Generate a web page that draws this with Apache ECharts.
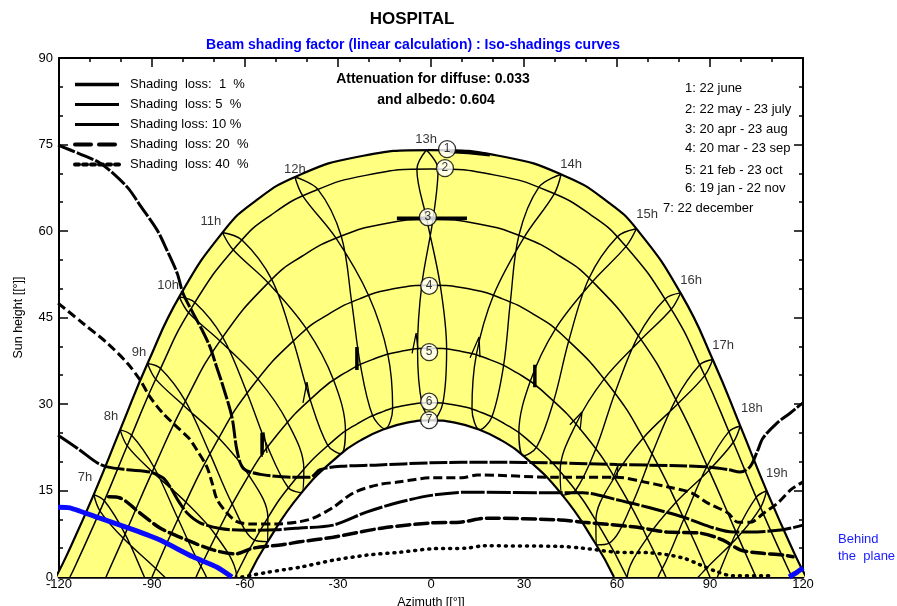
<!DOCTYPE html>
<html><head><meta charset="utf-8">
<script src="https://cdn.jsdelivr.net/npm/echarts@6/dist/echarts.min.js"></script>
<style>html,body{margin:0;padding:0;background:#fff}#c{width:897px;height:606px}</style>
</head><body><div id="c"></div><script>
// ---- axis ticks ----
const xTicks = [-120, -90, -60, -30, 0, 30, 60, 90, 120];
const yTicks = [0, 15, 30, 45, 60, 75, 90];

// ---- day curves (azimuth, sun height) ----
const dayJun = [[-121.0,0],[-117.33,3.96],[-108.52,14.63],[-100.02,25.85],[-91.16,37.37],[-80.85,48.92],[-66.76,60.06],[-56.69,65.19],[-42.94,69.6],[-23.92,72.83],[0,74.04],[23.92,72.83],[42.94,69.6],[56.69,65.19],[66.76,60.06],[80.85,48.92],[91.16,37.37],[100.02,25.85],[108.52,14.63],[117.33,3.96],[121.0,0]];
const dayMay = [[-116.48,0],[-114.87,1.77],[-105.83,12.63],[-97.04,23.98],[-87.76,35.55],[-76.84,47.02],[-61.96,57.88],[-51.63,62.77],[-38.13,66.84],[-20.68,69.69],[0,70.75],[20.68,69.69],[38.13,66.84],[51.63,62.77],[61.96,57.88],[76.84,47.02],[87.76,35.55],[97.04,23.98],[105.83,12.63],[114.87,1.77],[116.48,0]];
const dayApr = [[-104.83,0],[-98.86,7.21],[-89.50,18.76],[-79.43,30.28],[-67.48,41.39],[-51.77,51.42],[-41.62,55.62],[-29.50,59.01],[-15.41,61.23],[0,62.0],[15.41,61.23],[29.50,59.01],[41.62,55.62],[51.77,51.42],[67.48,41.39],[79.43,30.28],[89.50,18.76],[98.86,7.21],[104.83,0]];
const dayMar = [[-90,0],[-80.35,11.54],[-69.87,22.73],[-57.59,33.12],[-42.29,42.0],[-33.12,45.55],[-22.88,48.28],[-11.72,50.01],[0,50.6],[11.72,50.01],[22.88,48.28],[33.12,45.55],[42.29,42.0],[57.59,33.12],[69.87,22.73],[80.35,11.54],[90,0]];
const dayFeb = [[-75.77,0],[-72.00,4.34],[-61.67,14.99],[-49.76,24.57],[-35.56,32.44],[-27.47,35.47],[-18.74,37.74],[-9.51,39.16],[0,39.65],[9.51,39.16],[18.74,37.74],[27.47,35.47],[35.56,32.44],[49.76,24.57],[61.67,14.99],[72.00,4.34],[75.77,0]];
const dayJan = [[-63.18,0],[-55.07,8.10],[-43.84,16.91],[-30.85,23.95],[-23.65,26.61],[-16.03,28.57],[-8.10,29.79],[0,30.2],[8.10,29.79],[16.03,28.57],[23.65,26.61],[30.85,23.95],[43.84,16.91],[55.07,8.10],[63.18,0]];
const dayDec = [[-59.02,0],[-53.00,5.85],[-42.05,14.41],[-29.47,21.19],[-22.55,23.74],[-15.27,25.61],[-7.71,26.77],[0,27.16],[7.71,26.77],[15.27,25.61],[22.55,23.74],[29.47,21.19],[42.05,14.41],[53.00,5.85],[59.02,0]];

// ---- hour lines (analemma loops) ----
const hour07 = [[-108.78,14.30],[-105.36,13.22],[-98.67,7.44],[-91.21,-1.47],[-83.61,-9.53],[-75.54,-14.8],[-71.91,-10.19],[-79.05,-3.91],[-88.79,1.47],[-99.26,6.71],[-106.77,11.44],[-108.78,14.30]];
const hour08 = [[-100.28,25.51],[-96.57,24.59],[-89.31,18.99],[-81.61,10.09],[-74.22,1.84],[-66.62,-3.83],[-62.39,-3.66],[-62.76,0.51],[-69.42,7.24],[-79.09,12.99],[-89.91,18.26],[-97.99,22.75],[-100.28,25.51]];
const hour09 = [[-91.44,37.02],[-87.24,36.17],[-79.21,30.51],[-71.29,21.35],[-64.16,12.68],[-56.95,6.39],[-52.69,6.13],[-52.63,10.32],[-58.78,17.68],[-68.45,24.11],[-79.90,29.79],[-88.81,34.31],[-91.44,37.02]];
const hour10 = [[-81.20,48.58],[-76.18,47.62],[-67.21,41.60],[-59.31,31.88],[-52.69,22.57],[-46.01,15.47],[-41.70,14.64],[-41.03,18.78],[-46.35,26.90],[-55.87,34.36],[-68.06,40.93],[-78.16,45.82],[-81.20,48.58]];
const hour11 = [[-67.28,59.74],[-60.99,58.43],[-51.40,51.60],[-44.47,41.01],[-39.08,30.91],[-33.36,22.88],[-29.07,21.36],[-27.60,25.34],[-31.47,34.22],[-40.11,42.99],[-52.57,51.03],[-63.90,56.79],[-67.28,59.74]];
const hour12 = [[-43.91,69.36],[-36.49,67.22],[-28.97,59.12],[-25.60,47.71],[-22.79,36.83],[-18.84,27.99],[-14.82,25.70],[-12.37,29.24],[-13.93,38.61],[-20.16,48.85],[-30.64,58.76],[-41.33,66.05],[-43.91,69.36]];
const hour13 = [[-1.50,74.04],[2.28,70.74],[0.63,62.0],[-2.99,50.57],[-4.34,39.54],[-2.93,30.17],[0.46,27.16],[3.80,30.11],[5.04,39.51],[2.99,50.57],[-1.36,62.0],[-4.55,70.72],[-1.50,74.04]];
const hour14 = [[41.97,69.84],[39.76,66.44],[30.03,58.90],[20.16,48.85],[14.61,38.50],[13.22,29.15],[15.72,25.52],[19.63,27.75],[23.41,36.65],[25.60,47.71],[28.36,59.26],[34.76,67.57],[41.97,69.84]];
const hour15 = [[66.24,60.38],[62.93,57.33],[52.14,51.24],[40.11,42.99],[32.04,33.97],[28.34,25.02],[29.87,21.02],[34.10,22.56],[39.65,30.67],[44.47,41.01],[50.97,51.81],[60.02,58.97],[66.24,60.38]];
const hour16 = [[80.50,49.26],[77.50,46.42],[67.75,41.18],[55.87,34.36],[46.83,26.58],[41.67,18.36],[42.40,14.18],[46.66,15.04],[53.17,22.24],[59.31,31.88],[66.90,41.85],[75.52,48.22],[80.50,49.26]];
const hour17 = [[90.88,37.72],[88.29,34.93],[79.65,30.05],[68.45,24.11],[59.18,17.30],[53.19,9.81],[53.31,5.57],[57.51,5.88],[64.57,12.30],[71.29,21.35],[78.96,30.77],[86.71,36.79],[90.88,37.72]];
const hour18 = [[99.76,26.19],[97.51,23.37],[89.69,18.53],[79.09,12.99],[69.78,6.84],[63.26,-0.05],[62.95,-4.26],[67.12,-4.39],[74.58,1.44],[81.61,10.09],[89.09,19.26],[96.09,25.21],[99.76,26.19]];
const hour19 = [[108.26,14.96],[106.30,12.04],[99.05,6.98],[88.79,1.47],[79.39,-4.33],[72.38,-10.79],[76.01,-15.39],[83.95,-9.95],[91.21,-1.47],[98.46,7.71],[104.89,13.82],[108.26,14.96]];

// ---- iso-shading curves ----
const isoNames = ['Shading  loss:  1  %', 'Shading  loss: 5  %', 'Shading loss: 10 %', 'Shading  loss: 20  %', 'Shading  loss: 40  %'];
const iso01 = [[-120.3,74.9],[-113,73.3],[-106.8,71.8],[-101.9,69.7],[-97.5,67.3],[-93.9,64.5],[-88.4,60.2],[-85.2,56.7],[-81.9,52.7],[-80,49.2],[-76.8,45.8],[-74,43],[-71.3,39.9],[-69.2,36.5],[-67.4,33.6],[-64.2,27.7],[-62.6,22],[-60.5,18.8],[-55,17.8],[-45,17.3],[-39,17.3],[-35.8,18.6],[-29,19.2],[-18,19.4],[0,19.8],[20,19.9],[40,19.8],[60,19.5],[80,19.3],[89,19.1],[96,18.6],[99.7,18.2],[102.9,19.1],[105.2,21.7],[107.1,24.1],[111.6,26.7],[115.8,28.4],[119,29.8],[120,30.2]];
const iso05 = [[-120.3,47.5],[-112.3,44],[-104.5,40.6],[-98,37.1],[-93.9,34.2],[-90.6,31.2],[-86.5,28.4],[-81.9,26],[-78,24],[-75.5,22],[-72.3,19.1],[-70.6,16.3],[-69,13.4],[-65.8,11.1],[-62.6,9.6],[-58.4,9.2],[-50,9.2],[-42.3,9.6],[-38,10.2],[-31.5,12.1],[-25,14.6],[-17,16],[-10,16.5],[0,17.2],[10,17.2],[15,17.7],[40,17.3],[60,17.3],[68.6,16.5],[76.5,15.6],[84,14.6],[89.3,12.8],[95.8,11.1],[99,9.5],[103,9.5],[107.4,11.1],[111.8,12.8],[116,15.1],[120,16.5]];
const iso10 = [[-120.3,24.6],[-114,22.3],[-107.7,19.8],[-104.5,19.1],[-98,18.6],[-90.6,18.2],[-86.5,17.2],[-84,15.5],[-81.5,13.2],[-78.5,11],[-74.5,9.4],[-68,8.4],[-60,8.1],[-50,8.2],[-42.3,8.5],[-31.6,9.0],[-20.6,11.3],[-10,13.0],[0.6,14.2],[11.6,14.7],[41.6,14.6],[49,14.6],[60,13.4],[70.6,12.0],[81.3,10.4],[90,8.7],[97.4,7.8],[102.9,7.8],[113.5,8.2],[120,9.0]];
const iso20 = [[-104,13.9],[-100.3,13.7],[-93.9,11.1],[-87.4,8.5],[-78.7,6.4],[-70.3,4.7],[-63.2,4.0],[-57.4,5.0],[-48,5.6],[-42.3,6.1],[-31.6,6.9],[-15.5,8.5],[0.6,9.4],[9.4,9.5],[18.1,10.2],[41.6,9.9],[49,9.5],[65.2,8.7],[76.1,7.8],[86.8,7.6],[94.2,6.4],[99.7,4.7],[105.2,4.2],[113.5,3.8],[116.8,3.5]];
const iso40 = [[-61,0],[-57,0.4],[-52.9,0.8],[-47,1.3],[-42.3,1.7],[-31.6,2.9],[-20.6,3.8],[-10,4.3],[0.6,4.9],[11.6,5.0],[16.8,5.4],[41.6,5.3],[49,5.0],[60,4.3],[70.6,4.2],[81.3,3.3],[86.8,2.1],[92.3,0.9],[97.4,0.2],[110,0.2]];
const iso01Bits = [[[6,73.8],[12,73.6],[19,73.2]], [[-11,62.2],[11.6,62.2]], [[-54.5,21.2],[-54.5,25.0]], [[-23.9,35.9],[-23.9,39.9]], [[33.5,32.9],[33.5,36.8]]];
const isoSmallBits = [[[-41.3,30.2],[-40,33.8],[-39,30.7]], [[-6.1,38.8],[-4.8,42.3],[-4.2,39.4]], [[12.6,38.0],[15.5,41.6],[15.8,38.1]], [[-54.5,20.8],[-53.9,25.1],[-52.9,21.5]], [[44.8,26.4],[48.7,28.6],[48.1,25.5]], [[58.4,16.8],[60.3,19.4],[60,17.3]]];

// ---- "behind the plane" limit ----
const blueLeft = [[-120.3,12.1],[-116.5,12.0],[-106.8,10.2],[-96.1,8.2],[-87.4,6.4],[-76.8,3.5],[-69,1.7],[-64.2,0]];
const blueRight = [[115.5,0],[118,0.8],[120,1.6]];

// ---- labels ----
const hourLabels = [[-111.6,17.3,'7h'],[-103.2,27.9,'8h'],[-94.2,39.0,'9h'],[-84.8,50.5,'10h'],[-71.0,61.6,'11h'],[-43.9,70.7,'12h'],[-1.6,75.8,'13h'],[45.2,71.6,'14h'],[69.7,62.8,'15h'],[83.9,51.5,'16h'],[94.2,40.1,'17h'],[103.5,29.3,'18h'],[111.6,17.9,'19h']];
const dateMarks = [[5.2,74.2,'1'],[4.5,70.9,'2'],[-1.0,62.4,'3'],[-0.6,50.5,'4'],[-0.6,39.0,'5'],[-0.6,30.4,'6'],[-0.6,27.2,'7']];
const dateLegend = ['1: 22 june', '2: 22 may - 23 july', '3: 20 apr - 23 aug', '4: 20 mar - 23 sep', '5: 21 feb - 23 oct', '6: 19 jan - 22 nov', '7: 22 december'];

const F = 'Liberation Sans, Arial, Helvetica, sans-serif';
const chart = echarts.init(document.getElementById('c'), null, {renderer: 'canvas'});

const series = [];
// yellow region: June area minus December area
series.push({type:'line', data: dayJun, symbol:'none', smooth:true, silent:true, z:1,
  lineStyle:{color:'#000', width:2.2}, areaStyle:{color:'#ffff80', opacity:1, origin:'start'}});
series.push({type:'line', data: dayDec, symbol:'none', smooth:true, silent:true, z:1,
  lineStyle:{color:'#000', width:2.2}, areaStyle:{color:'#ffffff', opacity:1, origin:'start'}});
[dayMay, dayApr, dayMar, dayFeb, dayJan].forEach(d => series.push({type:'line', data:d, symbol:'none', smooth:true, silent:true, z:2,
  lineStyle:{color:'#000', width:1.5}}));
[hour07,hour08,hour09,hour10,hour11,hour12,hour13,hour14,hour15,hour16,hour17,hour18,hour19].forEach(d => series.push({type:'line', data:d, symbol:'none', smooth:0.35, silent:true, z:2,
  lineStyle:{color:'#000', width:1.4}}));

const isoData = [iso01, iso05, iso10, iso20, iso40];
const isoStyles = [
  {color:'#000', width:3, type:[18,2]},
  {color:'#000', width:3, type:[9,4]},
  {color:'#000', width:3, type:[24,2]},
  {color:'#000', width:3.5, type:[13,5], cap:'round'},
  {color:'#000', width:3.5, type:[1,6], cap:'round'}
];
const legendStyles = [
  {color:'#000', width:3.5, type:'solid'},
  {color:'#000', width:3, type:'solid'},
  {color:'#000', width:3, type:'solid'},
  {color:'#000', width:4, type:'dashed'},
  {color:'#000', width:4, type:'dotted'}
];
isoData.forEach((d,i) => series.push({name: isoNames[i], type:'line', data:d, symbol:'none', smooth:0.3, silent:true, z:3,
  itemStyle:{color:'#000'}, lineStyle: isoStyles[i]}));
iso01Bits.forEach(d => series.push({type:'line', data:d, symbol:'none', silent:true, z:3, lineStyle:{color:'#000', width:3.5}}));
isoSmallBits.forEach(d => series.push({type:'line', data:d, symbol:'none', silent:true, z:3, lineStyle:{color:'#000', width:1.3}}));
[blueLeft, blueRight].forEach(d => series.push({type:'line', data:d, symbol:'none', smooth:0.2, silent:true, z:4, lineStyle:{color:'#0a0aff', width:5}}));

series.push({type:'scatter', data: dateMarks, symbol:'circle', symbolSize:17, silent:true, z:5,
  itemStyle:{color:'#fff', borderColor:'#000', borderWidth:1.3},
  label:{show:true, position:'inside', formatter: p => p.value[2], color:'#000', fontSize:12, fontFamily:F}});
series.push({type:'scatter', data: hourLabels, symbol:'circle', symbolSize:0.1, silent:true, z:6,
  itemStyle:{color:'rgba(0,0,0,0)'},
  label:{show:true, position:'inside', formatter: p => p.value[2], color:'#000', fontSize:13, fontFamily:F}});

function axisCommon(extra) {
  return Object.assign({
    type:'value', splitLine:{show:false},
    axisLine:{show:true, onZero:false, lineStyle:{color:'#000', width:2}},
    axisTick:{show:true, inside:true, length:9, lineStyle:{color:'#000', width:1.5}},
    minorTick:{show:true, splitNumber:3, length:4, lineStyle:{color:'#000', width:1.5}}
  }, extra);
}

const graphic = [
  {type:'text', x:412, y:19, style:{text:'HOSPITAL', font:'bold 17px ' + F, fill:'#000', align:'center', verticalAlign:'middle'}},
  {type:'text', x:413, y:45, style:{text:'Beam shading factor (linear calculation) : Iso-shadings curves', font:'bold 14px ' + F, fill:'#0000ff', align:'center', verticalAlign:'middle'}},
  {type:'text', x:433, y:79, style:{text:'Attenuation for diffuse: 0.033', font:'bold 14px ' + F, fill:'#000', align:'center', verticalAlign:'middle'}},
  {type:'text', x:436, y:100, style:{text:'and albedo: 0.604', font:'bold 14px ' + F, fill:'#000', align:'center', verticalAlign:'middle'}},
  {type:'text', x:132, y:538, style:{text:'Behind', font:'13px ' + F, fill:'#1a1aff', align:'left', verticalAlign:'middle'}},
  {type:'text', x:116, y:555, style:{text:'the  plane', font:'13px ' + F, fill:'#1a1aff', align:'left', verticalAlign:'middle'}},
  {type:'text', x:838, y:539, style:{text:'Behind', font:'13px ' + F, fill:'#1a1aff', align:'left', verticalAlign:'middle'}},
  {type:'text', x:838, y:556, style:{text:'the  plane', font:'13px ' + F, fill:'#1a1aff', align:'left', verticalAlign:'middle'}}
];
const dateY = [88, 109, 129, 148, 170, 188, 208];
dateLegend.forEach((t,i) => graphic.push({type:'text', x: i === 6 ? 663 : 685, y: dateY[i], style:{text:t, font:'13px ' + F, fill:'#000', align:'left', verticalAlign:'middle'}}));

chart.setOption({
  animation:false,
  backgroundColor:'#fff',
  textStyle:{fontFamily:F},
  grid:{left:59, right:94, top:58, bottom:29, containLabel:false, outerBoundsMode:'none'},
  xAxis:[
    axisCommon({min:xTicks[0], max:xTicks[xTicks.length-1], interval:30, position:'bottom',
      axisLine:{show:true, onZero:false, lineStyle:{color:'#000', width:2.5}},
      axisLabel:{margin:1, color:'#000', fontSize:13, fontFamily:F},
      name:'Azimuth [[°]]', nameLocation:'middle', nameGap:10, nameTextStyle:{color:'#000', fontSize:12.5, fontFamily:F}}),
    axisCommon({min:xTicks[0], max:xTicks[xTicks.length-1], interval:30, position:'top', axisLabel:{show:false}})
  ],
  yAxis:[
    axisCommon({min:yTicks[0], max:yTicks[yTicks.length-1], interval:15, position:'left',
      axisLabel:{margin:6, color:'#000', fontSize:13, fontFamily:F},
      name:'Sun height [[°]]', nameLocation:'middle', nameGap:34, nameTextStyle:{color:'#000', fontSize:12.5, fontFamily:F}}),
    axisCommon({min:yTicks[0], max:yTicks[yTicks.length-1], interval:15, position:'right', axisLabel:{show:false}})
  ],
  legend:{show:true, data: isoNames.map((n,i) => ({name:n, lineStyle: legendStyles[i]})), orient:'vertical', left:73, top:78, padding:0,
    itemWidth:44, itemHeight:14, itemGap:7,
    selectedMode:false, itemStyle:{opacity:0}, textStyle:{color:'#000', fontSize:13, fontFamily:F, padding:[0,0,0,6]}},
  graphic: graphic,
  series: series
});
</script></body></html>
